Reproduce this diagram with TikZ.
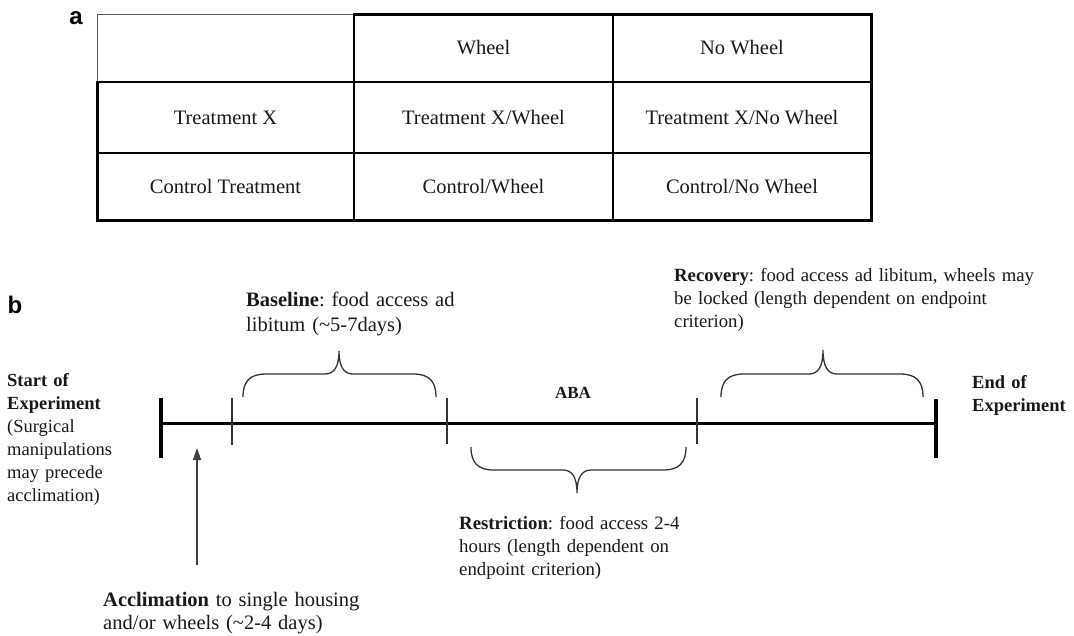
\documentclass[tikz,border=0pt]{standalone}
\usepackage{fontspec}
\setmainfont{Liberation Serif}
\newfontfamily\labelfont{Liberation Sans}
\usetikzlibrary{arrows.meta}
\definecolor{txt}{gray}{0.1}
\frenchspacing
\begin{document}
\begin{tikzpicture}[x=1pt,y=-1pt,
  cell/.style={inner sep=0pt, text=txt, text height=13.5pt, text depth=0pt,
    font=\fontsize{20.5}{23}\selectfont},
  outerline/.style={line width=3pt, line join=miter, line cap=rect},
  innerline/.style={line width=1.8pt},
  thinline/.style={line width=0.9pt, black!65},
  panellabel/.style={inner sep=0pt, font=\labelfont\bfseries\fontsize{24}{24}\selectfont},
  para/.style={inner sep=0pt, anchor=base west, text=txt, text width=420pt, align=left},
  mainline/.style={line width=3pt},
  endtick/.style={line width=3.5pt},
  smalltick/.style={line width=1.2pt, black!80},
  bracestyle/.style={line width=1.3pt, black!80},
  arrowstyle/.style={line width=1.3pt, black!75, -{Triangle[length=12pt,width=8pt]}}]
\useasboundingbox (0,0) rectangle (1074,635);

% ---------- panel a ----------
\node[panellabel] (la) at (76,18) {a};
\draw[thinline] (97,82) -- (97,14) -- (354,14);
\draw[innerline] (97,82) -- (871,82);
\draw[innerline] (97,153) -- (871,153);
\draw[innerline] (354,14) -- (354,220);
\draw[innerline] (613,14) -- (613,220);
\draw[outerline] (354,14) -- (871,14) -- (871,220) -- (97,220) -- (97,82);

\node[cell] (c12) at (483.5,48) {Wheel};
\node[cell] (c13) at (742,48) {No Wheel};
\node[cell] (c21) at (225.5,118) {Treatment X};
\node[cell] (c22) at (483.5,118) {Treatment X/Wheel};
\node[cell] (c23) at (742,118) {Treatment X/No Wheel};
\node[cell] (c31) at (225.5,187) {Control Treatment};
\node[cell] (c32) at (483.5,187) {Control/Wheel};
\node[cell] (c33) at (742,187) {Control/No Wheel};

% ---------- panel b ----------
\node[panellabel] (lb) at (15,305) {b};

\coordinate (t0) at (161,423);
\coordinate (t1) at (936,423);
\draw[mainline] (t0) -- (t1);
\draw[endtick] (161,398) -- (161,458);
\draw[endtick] (936,399) -- (936,458);
\draw[smalltick] (232,398) -- (232,445);
\draw[smalltick] (447,398) -- (447,444);
\draw[smalltick] (697,398) -- (697,444);

% braces
\draw[bracestyle] (243,397) .. controls (243,381) and (250,374) .. (266,374)
  -- (325,374) .. controls (334,374) and (339,367) .. (339,351)
  .. controls (339,367) and (344,374) .. (353,374)
  -- (413,374) .. controls (429,374) and (436,381) .. (436,397);
\draw[bracestyle] (721,397) .. controls (721,381) and (728,374) .. (744,374)
  -- (809,374) .. controls (818,374) and (823,367) .. (823,350)
  .. controls (823,367) and (828,374) .. (837,374)
  -- (900,374) .. controls (916,374) and (923,381) .. (923,397);
\draw[bracestyle] (471,447) .. controls (471,463) and (478,470) .. (494,470)
  -- (563,470) .. controls (572,470) and (577,477) .. (577,493)
  .. controls (577,477) and (582,470) .. (591,470)
  -- (663,470) .. controls (679,470) and (686,463) .. (686,447);

% texts
\node[para, font=\fontsize{18.5}{23}\selectfont] (start) at (7,386)
  {\textbf{Start of}\\\textbf{Experiment}\\(Surgical\\manipulations\\may precede\\acclimation)};
\node[para, font=\fontsize{18.5}{23}\selectfont] (end) at (972,388)
  {\textbf{End of}\\\textbf{Experiment}};
\node[inner sep=0pt, text=txt, font=\bfseries\fontsize{17}{20}\selectfont] (aba) at (573,393) {ABA};
\node[para, font=\fontsize{20.5}{25}\selectfont] (baseline) at (246,306)
  {\textbf{Baseline}: food access ad\\libitum (\textasciitilde5-7days)};
\node[para, font=\fontsize{18.7}{23}\selectfont] (recovery) at (674,281)
  {\textbf{Recovery}: food access ad libitum, wheels may\\be locked (length dependent on endpoint\\criterion)};
\node[para, font=\fontsize{18.8}{23}\selectfont] (restriction) at (459,529)
  {\textbf{Restriction}: food access 2-4\\hours (length dependent on\\endpoint criterion)};
\node[para, font=\fontsize{20.5}{23}\selectfont] (acclim) at (103,606)
  {\textbf{Acclimation} to single housing\\and/or wheels (\textasciitilde2-4 days)};

\coordinate (arrowfoot) at (197,565);
\coordinate (arrowtip) at (197,448);
\draw[arrowstyle] (arrowfoot) -- (arrowtip);
\end{tikzpicture}
\end{document}
